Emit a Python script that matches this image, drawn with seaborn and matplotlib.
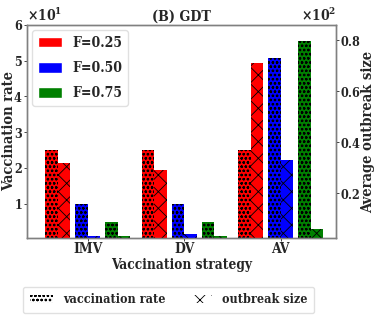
import numpy as np
import matplotlib
matplotlib.use("Agg")
import matplotlib.pyplot as plt
import seaborn as sns
from matplotlib.patches import Patch
from matplotlib.ticker import ScalarFormatter

# data (percent)
strategies = ["IMV", "DV", "AV"]
f_labels = ["F=0.25", "F=0.50", "F=0.75"]
colors = ["red", "blue", "green"]
vacc_rate = [
    [25, 25, 25],      # F=0.25
    [10, 10, 50.6],    # F=0.50
    [5, 5, 55.5],      # F=0.75
]
outbreak = [
    [32, 29, 71],
    [3.1, 3.8, 33.2],
    [3.1, 3.1, 6.1],
]

sns.set_style("ticks")
plt.rcParams["font.family"] = ["DejaVu Serif"]
plt.rcParams["font.stretch"] = "condensed"
plt.rcParams["font.weight"] = "bold"
plt.rcParams["axes.labelweight"] = "bold"
plt.rcParams["axes.titleweight"] = "bold"
plt.rcParams["mathtext.fontset"] = "dejavuserif"
plt.rcParams["mathtext.default"] = "bf"
plt.rcParams["axes.edgecolor"] = "grey"
plt.rcParams["hatch.linewidth"] = 0.6

fig = plt.figure(figsize=(3.74, 3.27), dpi=100)
ax = fig.add_axes([0.072, 0.272, 0.826, 0.652])
ax2 = ax.twinx()

group = np.arange(len(strategies))
w = 0.13
step = 0.31
for i in range(3):
    pos = group + (i - 1) * step
    sns.barplot(x=pos - w / 2, y=vacc_rate[i], native_scale=True, width=w,
                color=colors[i], saturation=1, errorbar=None, hatch="oooo",
                edgecolor="black", linewidth=0, ax=ax)
    sns.barplot(x=pos + w / 2, y=outbreak[i], native_scale=True, width=w,
                color=colors[i], saturation=1, errorbar=None, hatch="xx",
                edgecolor="black", linewidth=0, ax=ax2)

ax.set_xlim(-0.63, 2.57)
ax.set_ylim(0.4, 60)
ax2.set_ylim(2.4, 86)
ax.set_yticks([10, 20, 30, 40, 50, 60])
ax2.set_yticks([20, 40, 60, 80])
ax.set_xticks(group)
ax.set_xticklabels(strategies)

fmt1 = ScalarFormatter(useMathText=True)
fmt1.set_powerlimits((1, 1))
ax.yaxis.set_major_formatter(fmt1)
fmt2 = ScalarFormatter(useMathText=True)
fmt2.set_powerlimits((2, 2))
ax2.yaxis.set_major_formatter(fmt2)

for a in (ax, ax2):
    a.tick_params(axis="y", labelsize=9, length=2, width=0.6, pad=1)
    a.tick_params(axis="x", labelsize=10, length=2, width=0.6, pad=1)
    a.yaxis.get_offset_text().set_fontsize(10)
    for s in a.spines.values():
        s.set_linewidth(1.0)

ax.set_xlabel("Vaccination strategy", fontsize=9.8, labelpad=1)
ax.set_ylabel("Vaccination rate", fontsize=10.5)
ax2.set_ylabel("Average outbreak size", fontsize=10.5)
ax.yaxis.set_label_coords(-0.035, 0.5)
ax2.yaxis.set_label_coords(1.083, 0.5)
ax.set_title("(B) GDT", fontsize=10.3, pad=3)

f_handles = [Patch(facecolor=c, label=l) for c, l in zip(colors, f_labels)]
ax2.legend(handles=f_handles, loc="upper left", fontsize=10, handlelength=1.75,
           handleheight=0.8, labelspacing=0.8, handletextpad=0.7,
           borderaxespad=0.4, frameon=True, framealpha=0.8, edgecolor="0.85")

h_handles = [Patch(facecolor="white", edgecolor="black", linewidth=0,
                   hatch="oooo", label="vaccination rate"),
             Patch(facecolor="white", edgecolor="black", linewidth=0,
                   hatch="xx", label="outbreak size")]
fig.legend(handles=h_handles, loc="center", bbox_to_anchor=(0.4505, 0.0826),
           ncol=2, fontsize=9, handlelength=1.85, columnspacing=1.85,
           borderpad=0.55, frameon=True, edgecolor="0.85")

fig.savefig("out.png", dpi=100)
